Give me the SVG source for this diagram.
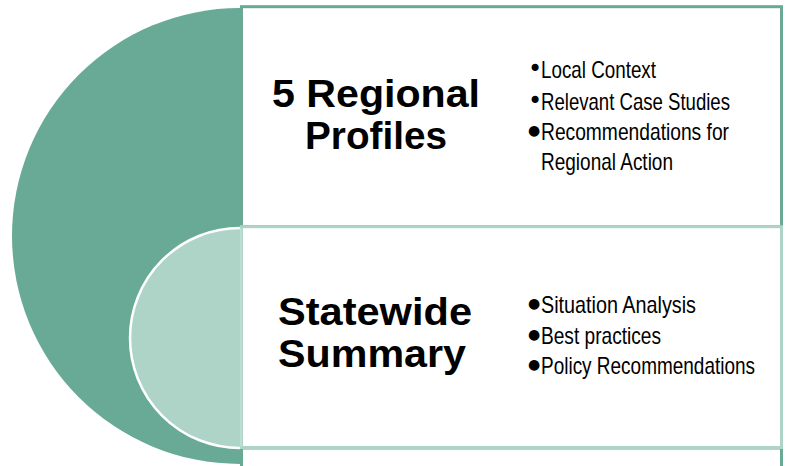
<svg xmlns="http://www.w3.org/2000/svg" width="786" height="466" viewBox="0 0 786 466">
<style>
.dark{fill:#68aa96}
.light{fill:#aed4c7}
.box{fill:#ffffff;stroke-width:3}
.title{font-family:"Liberation Sans",Arial,sans-serif;font-weight:bold;font-size:39px;fill:#000;text-anchor:middle}
.item{font-family:"Liberation Sans",Arial,sans-serif;font-size:24px;fill:#000}
.bul{font-family:"DejaVu Sans",sans-serif;fill:#000}
.big{font-size:14px}
.small{font-size:24px}
</style>
<rect width="786" height="466" fill="#ffffff"/>
<g id="outer-shape">
<path class="dark" d="M240,8 A228,228 0 0 0 240,464 Z"/>
</g>
<g id="box-3">
<rect class="box" x="241.5" y="448" width="540" height="40" stroke="#68aa96"/>
</g>
<g id="regional-profiles">
<rect class="box" x="241.5" y="6.7" width="540" height="220" stroke="#68aa96"/>
<text class="title" x="376" y="107" textLength="208" lengthAdjust="spacingAndGlyphs">5 Regional</text>
<text class="title" x="376" y="149" textLength="142" lengthAdjust="spacingAndGlyphs">Profiles</text>
<text class="bul small" x="528" y="77">•</text>
<text class="item" x="541" y="78" textLength="115" lengthAdjust="spacingAndGlyphs">Local Context</text>
<text class="bul small" x="528" y="109">•</text>
<text class="item" x="541" y="110" textLength="189" lengthAdjust="spacingAndGlyphs">Relevant Case Studies</text>
<text class="bul big" x="528" y="135">●</text>
<text class="item" x="541" y="140" textLength="188" lengthAdjust="spacingAndGlyphs">Recommendations for</text>
<text class="item" x="541" y="170" textLength="132" lengthAdjust="spacingAndGlyphs">Regional Action</text>
</g>
<g id="statewide-summary">
<rect class="box" x="241.5" y="226.7" width="540" height="220.8" stroke="#aed4c7"/>
<path class="light" d="M240,228 A110,110 0 0 0 240,448 Z"/>
<path d="M240,228 A110,110 0 0 0 240,448" fill="none" stroke="#ffffff" stroke-width="2.5"/>
<line x1="241" y1="228" x2="241" y2="447" stroke="#c4e0d6" stroke-width="1.5"/>
<text class="title" x="375" y="325" textLength="194" lengthAdjust="spacingAndGlyphs">Statewide</text>
<text class="title" x="372" y="367" textLength="188" lengthAdjust="spacingAndGlyphs">Summary</text>
<text class="bul big" x="528" y="308">●</text>
<text class="item" x="541" y="313" textLength="155" lengthAdjust="spacingAndGlyphs">Situation Analysis</text>
<text class="bul big" x="528" y="339">●</text>
<text class="item" x="541" y="344" textLength="120" lengthAdjust="spacingAndGlyphs">Best practices</text>
<text class="bul big" x="528" y="369">●</text>
<text class="item" x="541" y="374" textLength="214" lengthAdjust="spacingAndGlyphs">Policy Recommendations</text>
</g>
<g id="connectors"></g>
</svg>
